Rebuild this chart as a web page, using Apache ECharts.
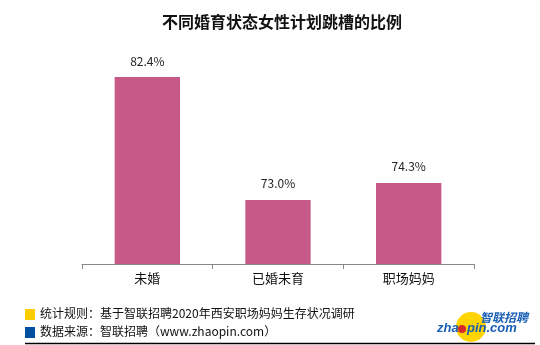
<!DOCTYPE html>
<html>
<head>
<meta charset="utf-8">
<script src="https://cdn.jsdelivr.net/npm/echarts@6/dist/echarts.min.js"></script>
<style>html,body{margin:0;padding:0;background:#fff;}#c{width:540px;height:345px;}</style>
</head>
<body>
<div id="c"></div>
<script>
var titleText = '不同婚育状态女性计划跳槽的比例';
var categories = ['未婚', '已婚未育', '职场妈妈'];
var values = [82.4, 73.0, 74.3];
var footNote1 = '统计规则：基于智联招聘2020年西安职场妈妈生存状况调研';
var footNote2 = '数据来源：智联招聘（www.zhaopin.com）';

var FONT = '"Noto Sans CJK SC", "Noto Sans", sans-serif';
var LOGO = 'italic bold 13px "Liberation Sans", Arial, sans-serif';
var chart = echarts.init(document.getElementById('c'));
chart.setOption({
  backgroundColor: '#ffffff',
  animation: false,
  title: {
    text: titleText,
    left: 277, top: 9, textAlign: 'center',
    textStyle: { fontFamily: FONT, fontSize: 16, fontWeight: 'bold', color: '#111' }
  },
  grid: { left: 82, right: 66, top: 43, bottom: 81 },
  xAxis: {
    type: 'category',
    data: categories,
    axisLine: { lineStyle: { color: '#888', width: 1 } },
    axisTick: { show: true, length: 5, alignWithLabel: false, lineStyle: { color: '#888' } },
    axisLabel: { fontFamily: FONT, fontSize: 13, color: '#111', margin: 8 }
  },
  yAxis: {
    type: 'value', min: 68.1, max: 85, show: false,
    splitLine: { show: false }
  },
  series: [{
    type: 'bar',
    data: values,
    barWidth: '50%',
    itemStyle: { color: '#c65987' },
    label: {
      show: true, position: 'top', distance: 10,
      formatter: function (p) { return p.value.toFixed(1) + '%'; },
      fontFamily: FONT, fontSize: 12, color: '#222'
    }
  }],
  graphic: [
    { type: 'rect', shape: { x: 25, y: 309, width: 10, height: 11 }, style: { fill: '#ffcc00' } },
    { type: 'rect', shape: { x: 25, y: 327, width: 10, height: 11 }, style: { fill: '#0050a0' } },
    { type: 'text', left: 40, top: 307, style: { text: footNote1, font: '12px ' + FONT, fill: '#111' } },
    { type: 'text', left: 40, top: 325, style: { text: footNote2, font: '12px ' + FONT, fill: '#111' } },
    { type: 'line', shape: { x1: 25, y1: 343.5, x2: 535, y2: 343.5 }, style: { stroke: '#000', lineWidth: 1.5 } },
    { type: 'circle', shape: { cx: 471, cy: 327, r: 15 }, style: { fill: '#ffd400' } },
    { type: 'text', left: 480, top: 311, style: { text: '智联招聘', font: 'italic bold 12px ' + FONT, fill: '#1a5fb4' } },
    { type: 'text', left: 437, top: 322, style: { text: 'zha', font: LOGO, fill: '#1a5fb4' } },
    { type: 'circle', shape: { cx: 462, cy: 329, r: 4 }, style: { fill: '#d8282a' } },
    { type: 'text', left: 467, top: 322, style: { text: 'pin.com', font: LOGO, fill: '#1a5fb4' } }
  ]
});
</script>
</body>
</html>
